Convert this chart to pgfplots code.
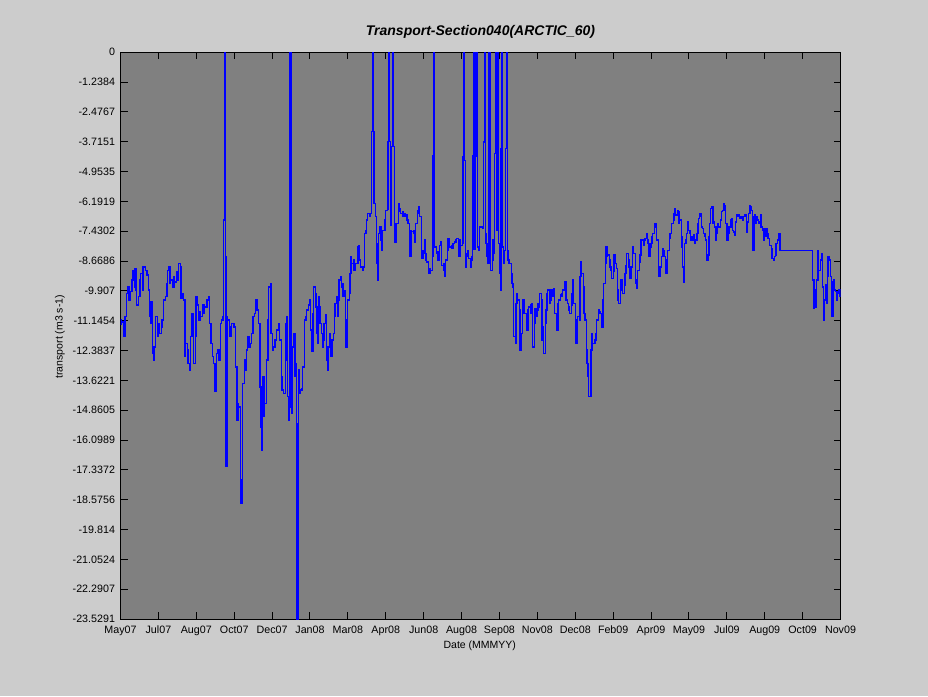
\documentclass[border=0pt]{standalone}
\usepackage{fontspec}
\setmainfont{Liberation Sans}
\usepackage{pgfplots}
\pgfplotsset{compat=1.18}
\definecolor{bggray}{RGB}{204,204,204}
\definecolor{axgray}{RGB}{128,128,128}
\begin{document}
\begin{tikzpicture}[x=1pt,y=1pt]
\fill[bggray] (0,0) rectangle (928,696);
\begin{axis}[
  at={(120.5pt,77pt)}, anchor=south west,
  scale only axis, width=720pt, height=566.7pt,
  xmin=4.4, xmax=915.6, ymin=-23.5291, ymax=0,
  axis background/.style={fill=axgray},
  axis line style={black, line width=1pt},
  tick align=inside, major tick length=7pt,
  tick style={black, line width=1pt},
  xtick={4.4,52.4,100.3,148.3,196.2,244.2,292.2,340.1,388.1,436.0,484.0,532.0,579.9,627.9,675.8,723.8,771.8,819.7,867.7,915.6},
  xticklabels={May07,Jul07,Aug07,Oct07,Dec07,Jan08,Mar08,Apr08,Jun08,Aug08,Sep08,Nov08,Dec08,Feb09,Apr09,May09,Jul09,Aug09,Oct09,Nov09},
  ytick={0,-1.2384,-2.4767,-3.7151,-4.9535,-6.1919,-7.4302,-8.6686,-9.907,-11.1454,-12.3837,-13.6221,-14.8605,-16.0989,-17.3372,-18.5756,-19.814,-21.0524,-22.2907,-23.5291},
  yticklabels={0,-1.2384,-2.4767,-3.7151,-4.9535,-6.1919,-7.4302,-8.6686,-9.907,-11.1454,-12.3837,-13.6221,-14.8605,-16.0989,-17.3372,-18.5756,-19.814,-21.0524,-22.2907,-23.5291},
  ticklabel style={font=\fontsize{10.7}{12}\selectfont},
  xticklabel style={yshift=-3.5pt},
  yticklabel style={xshift=-2pt},
  xlabel={Date (MMMYY)}, ylabel={transport (m3 s-1)},
  label style={font=\fontsize{10.5}{12}\selectfont},
  xlabel style={at={(axis description cs:0.499,-0.0476)}, anchor=center},
  ylabel style={at={(axis description cs:-0.084,0.498)}, anchor=center},
  title={Transport-Section040(ARCTIC\_60)},
  title style={at={(axis description cs:0.5,1.0252)}, anchor=center, font=\fontsize{14}{16}\selectfont\bfseries\itshape},
]
\addplot[const plot, color=blue, line width=1.4pt] table {
4 -11.1
5 -11.3
6 -11.19
8 -11.40
9 -11.81
10 -10.98
12 -10.01
14 -9.74
15 -10.29
17 -9.94
19 -9.46
20 -9.05
22 -9.74
23 -8.98
24 -9.87
25 -10.50
27 -10.15
29 -9.46
30 -9.18
32 -9.87
33 -8.91
36 -9.05
38 -9.25
40 -9.87
41 -10.98
42 -11.26
43 -10.36
45 -12.50
46 -12.78
47 -12.23
49 -10.98
51 -11.81
52 -11.26
54 -11.67
56 -11.40
57 -11.12
59 -10.29
61 -10.15
63 -9.60
64 -9.05
66 -8.91
67 -9.60
68 -9.46
70 -9.74
72 -9.32
73 -9.53
75 -9.11
77 -9.46
78 -8.77
80 -8.91
81 -10.22
83 -10.01
84 -10.29
86 -12.64
87 -12.09
89 -12.36
90 -12.92
92 -13.19
93 -11.81
95 -10.84
96 -11.81
97 -12.92
99 -11.81
100 -10.15
101 -10.50
103 -11.12
105 -10.77
106 -10.98
108 -10.50
110 -10.84
111 -10.57
114 -10.29
116 -10.15
117 -11.26
119 -12.09
121 -12.64
122 -12.92
124 -14.09
126 -12.50
127 -12.36
129 -12.78
131 -11.26
132 -11.12
134 -10.98
135 -6.97
136 0
137 -8.49
138 -17.2
139 -10.98
140 -11.12
142 -11.40
143 -11.81
145 -11.26
148 -11.40
150 -13.06
152 -15.27
153 -14.58
154 -14.72
156 -17.76
157 -18.73
158 -17.76
159 -13.75
161 -12.78
162 -13.19
164 -12.36
165 -11.81
167 -12.23
169 -12.09
170 -11.67
172 -10.98
174 -10.84
175 -10.29
177 -10.70
179 -11.26
181 -13.89
182 -15.55
183 -16.51
184 -13.47
186 -15.13
187 -14.58
189 -12.78
191 -11.12
192 -9.74
194 -9.60
195 -11.67
197 -12.36
198 -12.23
200 -11.95
202 -11.53
204 -11.26
206 -11.95
208 -13.47
209 -14.02
211 -14.16
213 -12.78
214 -11.26
215 -10.98
216 -14.30
217 -15.27
218 -7.39
219 0
220 -14.72
221 -14.99
222 -12.23
224 -11.67
225 -13.47
226 -12.92
227 -17.8
228 -23.53
229 -15.41
230 -13.19
231 -14.16
232 -14.02
234 -13.95
235 -13.06
237 -11.12
239 -10.98
240 -10.70
242 -10.50
244 -10.29
245 -11.53
246 -12.43
248 -10.84
249 -9.74
251 -10.01
252 -10.57
253 -11.67
254 -12.09
255 -10.15
256 -10.57
257 -11.26
259 -11.67
260 -12.23
261 -11.95
262 -11.26
264 -10.91
265 -12.78
266 -13.19
267 -12.23
269 -11.67
270 -12.64
272 -11.95
274 -11.67
275 -10.98
276 -10.43
278 -10.15
279 -10.98
280 -10.29
281 -9.46
283 -9.32
284 -9.74
285 -9.60
286 -10.15
288 -9.88
289 -11.26
290 -12.23
291 -11.12
292 -10.29
294 -10.01
295 -9.18
296 -8.49
297 -8.77
299 -8.63
300 -9.05
301 -8.77
305 -8.08
306 -8.01
307 -8.63
308 -8.91
311 -9.05
312 -8.91
313 -7.52
315 -7.39
316 -6.97
317 -6.69
320 -6.83
321 -6.69
322 -3.3
323 0
324 -3.3
325 -6.28
327 -6.83
328 -7.94
329 -8.77
330 -9.46
331 -7.52
332 -7.25
334 -7.80
335 -8.22
336 -7.39
339 -6.97
340 -6.56
342 -6.5
343 -3.7
344 0
345 -3.7
346 -7.2
347 -3.9
349 0
350 -3.9
351 -7.87
353 -7.11
356 -6.28
357 -6.62
358 -6.49
359 -6.69
361 -6.62
362 -6.83
363 -6.69
365 -6.83
366 -6.76
367 -6.97
368 -7.11
370 -8.08
371 -8.49
372 -7.39
373 -7.45
375 -7.52
376 -7.39
377 -7.87
378 -7.11
380 -6.69
381 -6.56
382 -6.42
383 -6.83
385 -8.35
386 -8.56
387 -8.22
389 -7.80
390 -8.35
391 -8.63
392 -8.70
394 -9.05
395 -9.18
396 -8.98
397 -9.05
399 -8.49
400 -4.3
401 0
402 -8.08
404 -8.35
405 -8.28
406 -8.63
408 -8.01
409 -7.87
410 -7.94
411 -8.84
413 -9.05
414 -8.77
415 -9.32
416 -8.63
418 -8.22
419 -7.73
420 -7.94
421 -8.08
423 -8.01
424 -8.15
425 -7.94
427 -7.87
428 -7.80
429 -7.87
430 -7.73
432 -8.08
433 -8.49
434 -7.80
435 -8.01
437 -7.94
438 -4.34
439 0
440 -4.5
441 -8.91
442 -8.49
443 -8.35
444 -8.22
445 -8.56
447 -8.91
448 -8.63
449 -8.49
450 -4.3
451 0
452 -8.2
453 0
454 -4.3
455 0
456 -8.08
458 -8.22
459 -7.25
463 -7.32
464 -3.72
465 0
466 -7.52
467 -7.94
468 -8.49
469 -8.77
470 -4.34
471 0
472 -8.77
473 -9.05
475 -8.63
476 -7.80
477 -8.35
478 -4.2
479 0
480 -7.39
481 -3.72
482 0
483 -7.94
484 -9.18
485 -9.87
486 -4.0
487 0
488 -8.08
489 -8.77
490 -8.22
492 -4.0
493 0
494 -8.22
495 -8.63
496 -8.77
499 -9.18
500 -9.60
501 -9.74
502 -11.81
504 -12.09
505 -10.43
506 -10.01
507 -10.29
509 -10.70
510 -12.36
511 -11.67
513 -10.43
514 -10.29
515 -10.84
518 -11.26
519 -11.53
520 -10.70
521 -10.57
523 -10.50
524 -10.84
525 -10.43
526 -12.23
528 -11.26
529 -10.64
530 -10.98
532 -10.70
533 -10.43
534 -10.57
535 -10.01
537 -10.29
538 -11.95
539 -11.40
540 -12.50
542 -11.26
543 -10.70
544 -10.01
545 -9.87
547 -10.43
548 -10.29
549 -9.87
551 -10.01
552 -10.15
553 -9.81
554 -10.84
556 -11.26
557 -11.53
558 -10.43
559 -10.29
561 -10.08
562 -10.15
563 -10.01
564 -9.87
566 -9.60
567 -9.53
568 -10.29
570 -10.43
571 -10.57
572 -10.70
573 -10.84
575 -10.50
576 -10.01
577 -9.46
578 -10.43
580 -11.67
581 -12.09
582 -11.12
583 -10.98
585 -11.12
586 -9.32
587 -8.70
588 -9.18
590 -9.74
591 -10.84
592 -11.12
594 -12.36
595 -12.92
596 -13.47
597 -14.30
599 -14.30
600 -12.36
601 -11.67
602 -12.09
605 -11.95
606 -11.67
607 -11.12
609 -10.70
610 -10.77
611 -10.84
613 -11.26
614 -11.40
615 -10.29
616 -9.60
618 -8.77
619 -8.08
620 -8.49
621 -8.42
623 -8.63
624 -8.91
625 -9.05
626 -9.39
628 -9.11
629 -8.42
630 -8.77
632 -8.98
633 -9.87
634 -10.29
635 -10.43
637 -9.87
638 -9.46
639 -9.87
640 -10.01
642 -9.67
643 -9.18
644 -8.84
645 -8.35
647 -8.63
648 -8.91
649 -9.39
651 -8.91
652 -8.35
653 -8.08
654 -8.35
656 -9.46
657 -9.60
658 -9.81
659 -9.05
661 -8.70
662 -8.42
663 -7.80
666 -8.01
667 -7.80
668 -7.73
670 -7.52
671 -7.80
672 -7.94
673 -8.49
675 -8.08
676 -7.94
677 -7.66
678 -7.52
680 -7.25
681 -7.11
683 -7.80
685 -8.91
686 -9.32
687 -8.91
689 -8.49
690 -8.15
691 -8.22
692 -8.49
694 -8.63
695 -9.18
696 -9.05
697 -8.22
699 -7.73
700 -7.52
702 -7.11
704 -6.97
705 -6.69
706 -6.49
707 -6.76
709 -6.56
710 -6.62
711 -7.11
712 -6.97
714 -7.66
715 -8.08
716 -8.91
717 -9.53
718 -7.94
720 -7.80
721 -7.52
722 -7.04
723 -7.39
725 -7.52
726 -7.80
727 -7.66
729 -7.80
730 -7.59
731 -7.94
732 -7.80
734 -7.52
735 -7.11
736 -6.90
737 -6.69
739 -6.83
740 -7.25
741 -7.32
742 -7.52
744 -7.66
745 -7.80
746 -8.63
748 -8.42
749 -7.66
750 -7.11
751 -6.49
753 -6.42
754 -7.11
755 -7.04
756 -7.25
758 -7.80
759 -7.52
760 -7.11
761 -7.25
764 -6.97
765 -6.62
766 -6.56
768 -6.28
769 -6.35
770 -7.11
772 -7.80
773 -7.25
774 -7.52
775 -7.25
777 -6.97
778 -6.90
779 -7.39
780 -7.46
782 -7.59
783 -7.04
784 -6.76
786 -6.83
787 -6.76
788 -6.90
789 -6.83
791 -6.90
792 -6.97
793 -6.83
794 -6.76
796 -6.83
797 -7.46
798 -7.04
799 -6.69
801 -6.35
802 -6.42
803 -6.56
804 -6.83
805 -8.22
807 -6.76
808 -7.11
809 -6.83
810 -6.97
812 -7.11
813 -7.04
814 -6.76
815 -7.25
817 -7.39
818 -7.80
819 -7.32
821 -7.66
822 -7.32
823 -7.52
824 -7.73
826 -8.01
828 -8.15
829 -8.56
831 -8.63
832 -8.49
833 -8.42
834 -7.94
836 -7.80
837 -7.73
838 -7.52
839 -8.22
879 -8.22
880 -9.46
882 -10.64
883 -9.87
884 -10.57
885 -9.46
887 -8.22
888 -9.05
890 -8.63
892 -8.35
893 -9.74
894 -11.12
895 -10.29
897 -9.67
898 -10.43
899 -9.32
900 -8.49
902 -8.63
903 -9.32
904 -9.53
905 -10.98
907 -9.46
908 -9.87
909 -9.94
911 -10.29
912 -10.01
913 -9.87
915 -10.15
916 -10.15
};
\end{axis}
\pgfresetboundingbox
\useasboundingbox (0,0) rectangle (928,696);
\end{tikzpicture}
\end{document}
